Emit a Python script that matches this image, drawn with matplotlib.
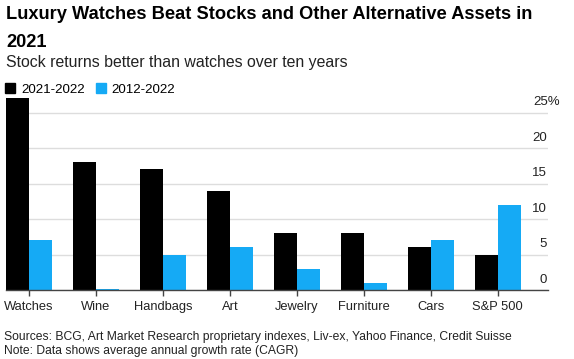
import matplotlib
matplotlib.use("Agg")
import matplotlib.pyplot as plt
import numpy as np
from matplotlib.patches import Patch
import matplotlib.transforms as mtransforms

categories = ["Watches", "Wine", "Handbags", "Art", "Jewelry", "Furniture", "Cars", "S&P 500"]
series_names = ["2021-2022", "2012-2022"]
vals_2021 = [27, 18, 17, 14, 8, 8, 6, 5]
vals_2012 = [7, 0.1, 5, 6, 3, 1, 7, 12]
yticks = [0, 5, 10, 15, 20, 25]
ytick_labels = ["0", "5", "10", "15", "20", "25%"]

BLACK = "#000000"
BLUE = "#15aaf5"

plt.rcParams["font.family"] = ["Liberation Sans", "DejaVu Sans"]

fig = plt.figure(figsize=(5.74, 3.59), dpi=100)
ax = fig.add_axes([0.0105, 0.1922, 0.9442, 0.5376])

x = np.arange(len(categories))
w = 0.343
ax.bar(x - w / 2, vals_2021, width=w, color=BLACK, zorder=3)
ax.bar(x + w / 2, vals_2012, width=w, color=BLUE, zorder=3)

ax.set_xlim(-0.343, 7.75)
ax.set_ylim(0, 27.2)
ax.set_xticks(x)
ax.set_xticklabels(categories, fontsize=9.3, color="#222222")
ax.tick_params(axis="x", length=4, width=1, color="#444444", pad=4)

ax.yaxis.tick_right()
ax.set_yticks(yticks)
ax.set_yticklabels(ytick_labels, fontsize=9.5, color="#222222")
ax.tick_params(axis="y", length=0, pad=-1)
for lbl in ax.get_yticklabels():
    lbl.set_horizontalalignment("right")
    lbl.set_verticalalignment("bottom")
    lbl.set_transform(lbl.get_transform() + mtransforms.ScaledTranslation(0, 3 / 72, fig.dpi_scale_trans))
ylbls = ax.get_yticklabels()
ylbls[-1].set_transform(ylbls[-1].get_transform() + mtransforms.ScaledTranslation(13 / 100, 0, fig.dpi_scale_trans))

ax.grid(axis="y", color="#dddddd", linewidth=1, zorder=0)
for s in ["top", "left", "right"]:
    ax.spines[s].set_visible(False)
ax.spines["bottom"].set_color("#444444")
ax.spines["bottom"].set_linewidth(1)
ax.spines["bottom"].set_zorder(4)

fig.text(0.0105, 0.946, "Luxury Watches Beat Stocks and Other Alternative Assets in",
         fontsize=13.15, fontweight="bold", ha="left", va="baseline")
fig.text(0.0105, 0.869, "2021", fontsize=13.15, fontweight="bold", ha="left", va="baseline")
fig.text(0.0105, 0.813, "Stock returns better than watches over ten years", fontsize=11.4,
         ha="left", va="baseline", color="#222222")

handles = [Patch(color=BLACK), Patch(color=BLUE)]
fig.legend(handles, series_names, loc="upper left", bbox_to_anchor=(0.0, 0.783), ncol=2, frameon=False,
           fontsize=9.6, handlelength=0.75, handleheight=0.75, handletextpad=0.45, columnspacing=0.8, borderaxespad=0)

fig.text(0.007, 0.052, "Sources: BCG, Art Market Research proprietary indexes, Liv-ex, Yahoo Finance, Credit Suisse",
         fontsize=8.7, ha="left", va="baseline", color="#222222")
fig.text(0.007, 0.013, "Note: Data shows average annual growth rate (CAGR)",
         fontsize=8.7, ha="left", va="baseline", color="#222222")

fig.savefig("out.png", dpi=100)
